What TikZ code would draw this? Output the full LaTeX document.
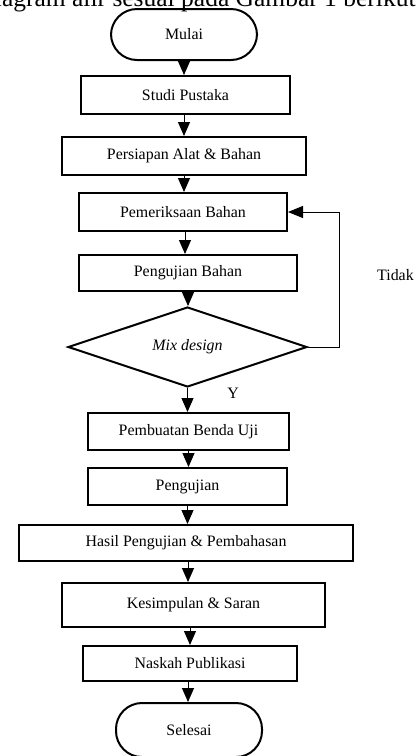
\documentclass[tikz,border=0pt]{standalone}
\usepackage{fontspec}
\setmainfont{Liberation Serif}
\usetikzlibrary{arrows.meta,shapes.geometric}
\begin{document}
\begin{tikzpicture}[x=1pt,y=-1pt,
  every node/.style={font=\fontsize{15.9}{19}\selectfont, inner sep=0pt},
  procbox/.style={draw, line width=2pt, rectangle},
  termbox/.style={draw, line width=2pt, rectangle, rounded corners=26pt},
  decbox/.style={draw, line width=2pt, diamond, aspect=3},
  conn/.style={line width=1pt, -{Triangle[width=12pt,length=14pt]}},
  plainlabel/.style={}
]
\useasboundingbox (0,0) rectangle (416,756);
\clip (0,0) rectangle (416,756);
\fill[white] (0,0) rectangle (416,756);

\node[anchor=base west, font=\fontsize{25.5}{30}\selectfont] (toptext) at (-18,6) {diagram alir sesuai pada Gambar 1 berikut};

\node[termbox, minimum width=146pt, minimum height=51pt] (mulai) at (184,34.5) {Mulai};
\node[procbox, minimum width=209pt, minimum height=38pt] (studi) at (185.5,95) {Studi Pustaka};
\node[procbox, minimum width=244pt, minimum height=38pt] (persiapan) at (184,156) {Persiapan Alat \& Bahan};
\node[procbox, minimum width=208pt, minimum height=38pt] (periksa) at (183,212) {Pemeriksaan Bahan};
\node[procbox, minimum width=218pt, minimum height=36pt] (ujibahan) at (188,273) {Pengujian Bahan};
\node[decbox, minimum width=239pt, minimum height=80pt] (mix) at (187.5,347) {\itshape Mix design};
\node[procbox, minimum width=201pt, minimum height=37pt] (buat) at (188.5,431.5) {Pembuatan Benda Uji};
\node[procbox, minimum width=199pt, minimum height=37pt] (uji) at (187.5,486.5) {Pengujian};
\node[procbox, minimum width=334pt, minimum height=36pt] (hasil) at (186,543) {Hasil Pengujian \& Pembahasan};
\node[procbox, minimum width=263pt, minimum height=44pt] (simpul) at (193.5,605) {Kesimpulan \& Saran};
\node[procbox, minimum width=214pt, minimum height=35pt] (naskah) at (190,663.5) {Naskah Publikasi};
\node[termbox, minimum width=146pt, minimum height=54pt] (selesai) at (189,730) {Selesai};

\node[plainlabel] (ylab) at (233,393) {Y};
\node[plainlabel, anchor=west] (tidak) at (377,275) {Tidak};

\draw[conn] (mulai.south) -- (mulai.south |- studi.north);
\draw[conn] (persiapan.north |- studi.south) -- (persiapan.north);
\draw[conn] (persiapan.south) -- (persiapan.south |- periksa.north);
\draw[conn] ([xshift=2pt]periksa.south) -- ([xshift=2pt]periksa.south |- ujibahan.north);
\draw[conn] (ujibahan.south) -- (ujibahan.south |- mix.north);
\draw[conn] (mix.south) -- (mix.south |- buat.north);
\draw[conn] (buat.south) -- (buat.south |- uji.north);
\draw[conn] (uji.south) -- (uji.south |- hasil.north);
\draw[conn] ([xshift=2pt]hasil.south) -- ([xshift=2pt]hasil.south |- simpul.north);
\draw[conn] (naskah.north |- simpul.south) -- (naskah.north);
\draw[conn] ([xshift=-2pt]naskah.south) -- ([xshift=-2pt]naskah.south |- selesai.north);
\draw[conn, -{Triangle[width=12pt,length=15pt]}] (mix.east) -- ++(31,0) |- (periksa.east);
\end{tikzpicture}
\end{document}
